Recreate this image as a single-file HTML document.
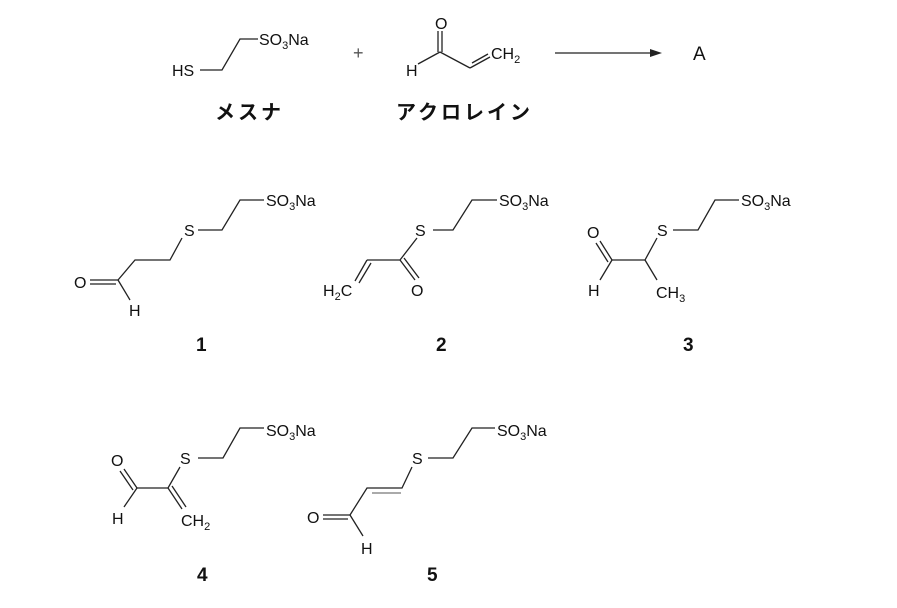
<!DOCTYPE html>
<html><head><meta charset="utf-8"><style>
html,body{margin:0;padding:0;background:#fff;}
svg{display:block;}
text{font-family:"Liberation Sans","Noto Sans CJK JP",sans-serif;fill:#111;}
.a{font-size:16px;}
.s{font-size:11px;}
.n{font-size:19px;font-weight:bold;}
.j{font-size:20px;font-weight:bold;letter-spacing:3px;}
line,polyline{stroke:#222;stroke-width:1.3;fill:none;}
</style></head><body>
<svg width="897" height="608" viewBox="0 0 897 608">
<!-- Mesna -->
<text class="a" x="172" y="76">HS</text>
<polyline points="200,70 222,70 240,39 258,39"/>
<text class="a" x="259" y="45">SO<tspan class="s" dy="4">3</tspan><tspan dy="-4">Na</tspan></text>
<text x="353" y="59" style="font-size:18px;fill:#555">+</text>
<!-- acrolein -->
<text class="a" x="435" y="29">O</text>
<text class="a" x="406" y="76">H</text>
<line x1="418" y1="64" x2="440" y2="52"/>
<line x1="438" y1="52" x2="438" y2="31"/><line x1="442" y1="52" x2="442" y2="31"/>
<line x1="440" y1="52" x2="470" y2="68"/>
<line x1="470" y1="68" x2="490" y2="57"/><line x1="472" y1="63" x2="488" y2="54"/>
<text class="a" x="491" y="59">CH<tspan class="s" dy="4">2</tspan></text>
<line x1="555" y1="53" x2="652" y2="53"/>
<polygon points="662,53 650,49 650,57" fill="#222"/>
<text x="693" y="60" style="font-size:19px">A</text>
<text class="j" x="215" y="119">メスナ</text>
<text class="j" x="396" y="119">アクロレイン</text>

<!-- 1 -->
<text class="a" x="266" y="206">SO<tspan class="s" dy="4">3</tspan><tspan dy="-4">Na</tspan></text>
<polyline points="264,200 240,200 222,230 198,230"/>
<text class="a" x="184" y="236">S</text>
<polyline points="182,238 170,260 135,260 118,280"/>
<line x1="118" y1="280" x2="90" y2="280"/><line x1="116" y1="284" x2="90" y2="284"/>
<text class="a" x="74" y="288">O</text>
<line x1="118" y1="280" x2="130" y2="300"/>
<text class="a" x="129" y="316">H</text>
<text class="n" x="196" y="351">1</text>

<!-- 2 -->
<text class="a" x="499" y="206">SO<tspan class="s" dy="4">3</tspan><tspan dy="-4">Na</tspan></text>
<polyline points="497,200 472,200 453,230 433,230"/>
<text class="a" x="415" y="236">S</text>
<polyline points="417,238 400,260 367,260"/>
<line x1="400" y1="260" x2="415" y2="280"/><line x1="404" y1="258" x2="419" y2="278"/>
<text class="a" x="411" y="296">O</text>
<line x1="367" y1="260" x2="355" y2="281"/><line x1="371" y1="263" x2="359" y2="283"/>
<text class="a" x="323" y="296">H<tspan class="s" dy="4">2</tspan><tspan dy="-4">C</tspan></text>
<text class="n" x="436" y="351">2</text>

<!-- 3 -->
<text class="a" x="741" y="206">SO<tspan class="s" dy="4">3</tspan><tspan dy="-4">Na</tspan></text>
<polyline points="739,200 715,200 698,230 673,230"/>
<text class="a" x="657" y="236">S</text>
<polyline points="657,238 645,260 612,260"/>
<line x1="612" y1="260" x2="600" y2="241"/><line x1="608" y1="262" x2="596" y2="243"/>
<text class="a" x="587" y="238">O</text>
<line x1="612" y1="260" x2="600" y2="280"/>
<text class="a" x="588" y="296">H</text>
<line x1="645" y1="260" x2="657" y2="280"/>
<text class="a" x="656" y="298">CH<tspan class="s" dy="4">3</tspan></text>
<text class="n" x="683" y="351">3</text>

<!-- 4 -->
<text class="a" x="266" y="436">SO<tspan class="s" dy="4">3</tspan><tspan dy="-4">Na</tspan></text>
<polyline points="264,428 240,428 223,458 198,458"/>
<text class="a" x="180" y="464">S</text>
<polyline points="180,467 168,488 137,488"/>
<line x1="137" y1="488" x2="124" y2="469"/><line x1="133" y1="490" x2="120" y2="471"/>
<text class="a" x="111" y="466">O</text>
<line x1="137" y1="488" x2="124" y2="507"/>
<text class="a" x="112" y="524">H</text>
<line x1="168" y1="488" x2="182" y2="509"/><line x1="172" y1="486" x2="186" y2="507"/>
<text class="a" x="181" y="526">CH<tspan class="s" dy="4">2</tspan></text>
<text class="n" x="197" y="581">4</text>

<!-- 5 -->
<text class="a" x="497" y="436">SO<tspan class="s" dy="4">3</tspan><tspan dy="-4">Na</tspan></text>
<polyline points="495,428 472,428 453,458 428,458"/>
<text class="a" x="412" y="464">S</text>
<polyline points="412,467 402,488 367,488 350,515"/>
<line x1="372" y1="493" x2="401" y2="493" style="stroke:#777"/>
<line x1="350" y1="515" x2="323" y2="515"/><line x1="348" y1="519" x2="323" y2="519"/>
<text class="a" x="307" y="523">O</text>
<line x1="350" y1="515" x2="363" y2="536"/>
<text class="a" x="361" y="554">H</text>
<text class="n" x="427" y="581">5</text>
</svg>
</body></html>
